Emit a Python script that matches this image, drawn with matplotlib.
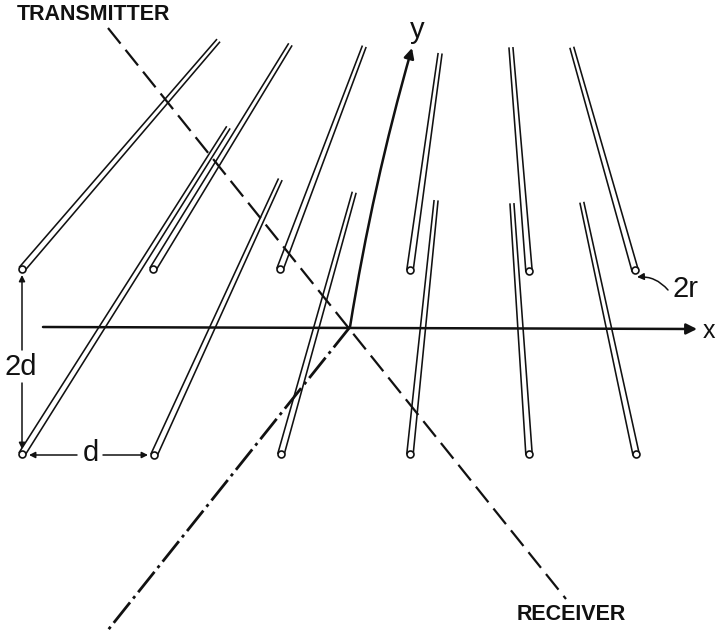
import numpy as np
import matplotlib
matplotlib.use("Agg")
import matplotlib.pyplot as plt
from matplotlib.patches import FancyArrowPatch

plt.rcParams['font.family'] = ['Liberation Sans', 'DejaVu Sans']

# rods, picture coordinates (pixels from top left)
base_x = [22, 153, 280, 410, 529, 635, 22, 154, 281, 410, 529, 636]
base_y = [269, 269, 269, 270, 271, 270, 454, 455, 454, 454, 454, 454]
top_x = [218, 290, 364, 440, 511, 572, 228, 280, 354, 436, 512, 582]
top_y = [41, 45, 47, 54, 48, 48, 128, 180, 193, 201, 204, 203]
# rods narrow towards the far end
half_base = 3.2
half_top = 2.0

fig = plt.figure(figsize=(7.17, 6.36), dpi=100)
ax = fig.add_axes([0, 0, 1, 1])
ax.set_xlim(0, 717)
ax.set_ylim(636, 0)
ax.axis("off")

ink = "#111111"

for x0, y0, x1, y1 in zip(base_x, base_y, top_x, top_y):
    dx, dy = x1 - x0, y1 - y0
    n = np.hypot(dx, dy)
    ux, uy = -dy / n, dx / n
    for s in (1, -1):
        ax.plot([x0 + s * ux * half_base, x1 + s * ux * half_top],
                [y0 + s * uy * half_base, y1 + s * uy * half_top], color=ink, lw=1.15)
    ax.plot(x0, y0, "o", ms=5, mfc="white", mec=ink, mew=1.2, zorder=3)


def arrow(a, b, lw=1.1, rad=0.0, scale=11):
    ax.add_patch(FancyArrowPatch(a, b, arrowstyle="-|>", mutation_scale=scale, lw=lw,
                                 color=ink, shrinkA=0, shrinkB=0,
                                 connectionstyle=f"arc3,rad={rad}", zorder=4))


# axes
arrow((43, 327), (697, 329), lw=1.8, scale=16)
arrow((350, 327), (412, 48), lw=1.8, rad=-0.03, scale=15)
ax.plot([350, 108], [327, 630], color=ink, lw=2.0, dashes=(9.4, 1.8, 1.1, 1.8))
ax.plot([108, 566], [28, 599], color=ink, lw=1.6, dashes=(9, 3.6))

# dimension arrows
arrow((22, 350), (22, 275), scale=9)
arrow((22, 383), (22, 449), scale=9)
arrow((77, 455), (29, 455), scale=9)
arrow((103, 455), (148, 455), scale=9)
arrow((668, 290), (637, 277), rad=0.25, scale=10)

ax.text(21, 367, "2d", fontsize=21, ha="center", va="center", color=ink)
ax.text(91, 453, "d", fontsize=21, ha="center", va="center", color=ink)
ax.text(686, 289, "2r", fontsize=21, ha="center", va="center", color=ink)
ax.text(417, 30, "y", fontsize=21, ha="center", va="center", color=ink)
ax.text(715.5, 331, "x", fontsize=18, ha="right", va="center", color=ink)
ax.text(17, 15, "TRANSMITTER", fontsize=15.5, fontweight="bold", ha="left", va="center", color=ink)
ax.text(517, 615, "RECEIVER", fontsize=15.5, fontweight="bold", ha="left", va="center", color=ink)

fig.savefig("out.png", dpi=100)
